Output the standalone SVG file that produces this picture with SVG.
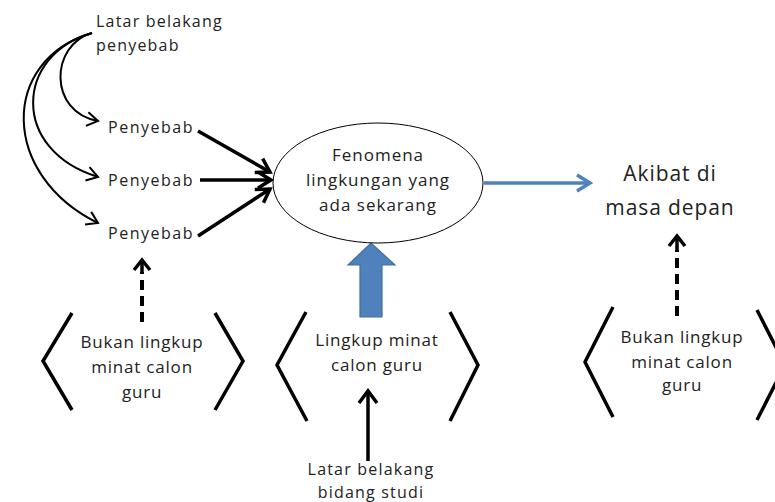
<svg xmlns="http://www.w3.org/2000/svg" width="775" height="502" viewBox="0 0 775 502">
  <style>
    .t { font-family: "Open Sans", "DejaVu Sans", sans-serif; fill: #222; text-anchor: middle; }
    .s16 { font-size: 16px; letter-spacing: 1.2px; }
    .sp { font-size: 16px; letter-spacing: 1.5px; }
    .s17 { font-size: 17px; letter-spacing: 0.8px; }
    .s17e { font-size: 17px; letter-spacing: 1px; }
    .s21 { font-size: 21px; letter-spacing: 0.9px; }
    .thin { fill: none; stroke: #000; stroke-width: 2; }
    .thick { fill: none; stroke: #000; stroke-width: 3.5; }
    .dash { fill: none; stroke: #000; stroke-width: 4; stroke-dasharray: 10 6; }
    .brk { fill: none; stroke: #000; stroke-width: 3.5; stroke-linejoin: miter; }
  </style>
  <defs>
    <marker id="openThin" markerUnits="userSpaceOnUse" markerWidth="20" markerHeight="20" refX="13" refY="10" orient="auto">
      <polyline points="2,3 13,10 2,17" fill="none" stroke="#000" stroke-width="2"/>
    </marker>
    <marker id="openThick" markerUnits="userSpaceOnUse" markerWidth="26" markerHeight="26" refX="16" refY="13" orient="auto">
      <polyline points="3,5 16,13 3,21" fill="none" stroke="#000" stroke-width="3.5"/>
    </marker>
    <marker id="openBlue" markerUnits="userSpaceOnUse" markerWidth="26" markerHeight="26" refX="16" refY="13" orient="auto">
      <polyline points="3,5 16,13 3,21" fill="none" stroke="#4f81bd" stroke-width="3.5"/>
    </marker>
  </defs>

  <rect width="775" height="502" fill="#fff"/>

  <!-- connectors -->
  <g id="connectors">
    <path class="thin" d="M 92 33 C 50 45, 48 112, 98 121" marker-end="url(#openThin)"/>
    <path class="thin" d="M 92 33 C 15 55, 10 150, 98 177" marker-end="url(#openThin)"/>
    <path class="thin" d="M 92 33 C 0 60, 0 175, 98 223" marker-end="url(#openThin)"/>
    <line class="thick" x1="198" y1="131" x2="270" y2="172" marker-end="url(#openThick)"/>
    <line class="thick" x1="200" y1="180" x2="271" y2="180" marker-end="url(#openThick)"/>
    <line class="thick" x1="198" y1="236" x2="270" y2="189" marker-end="url(#openThick)"/>
    <line x1="484" y1="183" x2="590" y2="183" fill="none" stroke="#4f81bd" stroke-width="3.5" marker-end="url(#openBlue)"/>
    <!-- dashed arrows -->
    <line class="dash" x1="142" y1="322" x2="142" y2="272"/>
    <polyline class="thick" points="134,270 142,260 150,270"/>
    <line class="thick" x1="142" y1="262" x2="142" y2="272"/>
    <line class="dash" x1="677" y1="316" x2="677" y2="250"/>
    <polyline class="thick" points="669,246 677,236 685,246"/>
    <line class="thick" x1="677" y1="238" x2="677" y2="250"/>
    <!-- solid arrow from study background -->
    <line class="thick" x1="368" y1="461" x2="368" y2="393"/>
    <polyline class="thick" points="359,403 368,391 377,403"/>
    <!-- block arrow -->
    <polygon points="360,317 382,317 382,265 395,265 371,243 348,265 360,265" fill="#4f81bd" stroke="#41719c" stroke-width="1.2"/>
  </g>

  <g id="latar-penyebab">
    <text class="t s16" x="96" y="27" style="text-anchor:start">Latar belakang</text>
    <text class="t s16" x="96" y="51" style="text-anchor:start">penyebab</text>
  </g>
  <g id="penyebab-1"><text class="t sp" x="151" y="133">Penyebab</text></g>
  <g id="penyebab-2"><text class="t sp" x="151" y="186">Penyebab</text></g>
  <g id="penyebab-3"><text class="t sp" x="151" y="239">Penyebab</text></g>

  <g id="fenomena">
    <ellipse cx="378" cy="183" rx="105" ry="60" fill="#fff" stroke="#000" stroke-width="1"/>
    <text class="t s17e" x="378" y="161">Fenomena</text>
    <text class="t s17e" x="378" y="186">lingkungan yang</text>
    <text class="t s17e" x="378" y="211">ada sekarang</text>
  </g>

  <g id="akibat">
    <text class="t s21" x="670" y="181">Akibat di</text>
    <text class="t s21" x="670" y="215">masa depan</text>
  </g>

  <g id="bukan-lingkup-kiri">
    <polyline class="brk" points="72,313 43,361 72,410"/>
    <polyline class="brk" points="215,313 243,361 215,410"/>
    <text class="t s17" x="142" y="348">Bukan lingkup</text>
    <text class="t s17" x="142" y="373">minat calon</text>
    <text class="t s17" x="142" y="398">guru</text>
  </g>

  <g id="lingkup-minat">
    <polyline class="brk" points="306,312 277,365 307,421"/>
    <polyline class="brk" points="450,312 478,365 450,421"/>
    <text class="t s17" x="377" y="346">Lingkup minat</text>
    <text class="t s17" x="377" y="371">calon guru</text>
  </g>

  <g id="latar-studi">
    <text class="t s16" x="371" y="475">Latar belakang</text>
    <text class="t s16" x="371" y="498">bidang studi</text>
  </g>

  <g id="bukan-lingkup-kanan">
    <polyline class="brk" points="613,307 585,362 613,417"/>
    <polyline class="brk" points="757,310 785,365 757,420"/>
    <text class="t s17" x="682" y="343">Bukan lingkup</text>
    <text class="t s17" x="682" y="368">minat calon</text>
    <text class="t s17" x="682" y="391">guru</text>
  </g>
</svg>
